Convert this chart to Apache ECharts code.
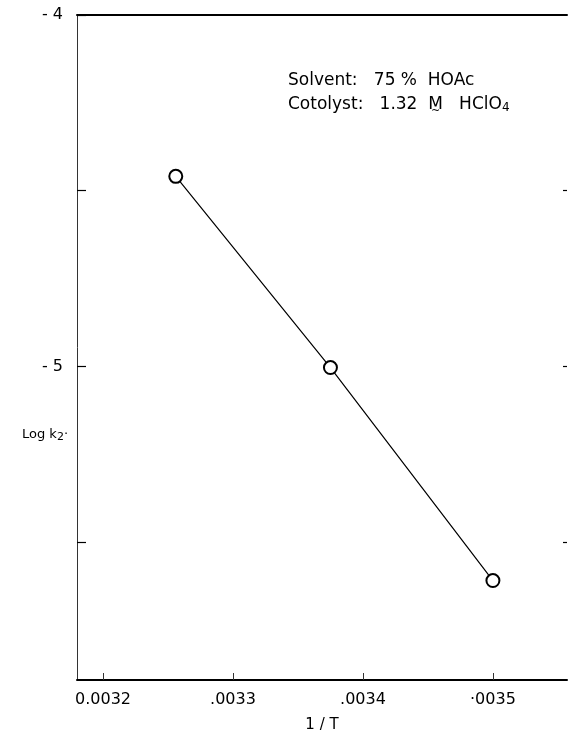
<!DOCTYPE html>
<html>
<head>
<meta charset="utf-8">
<script src="https://cdn.jsdelivr.net/npm/echarts@6/dist/echarts.min.js"></script>
<style>
  html, body { margin: 0; padding: 0; background: #fff; }
  #chart { width: 569px; height: 738px; }
</style>
</head>
<body>
<div id="chart"></div>
<script>
// Arrhenius-type plot: log k2 against reciprocal temperature
const invT = [0.003256, 0.003375, 0.003500];
const logK2 = [-4.459, -5.003, -5.609];

const xTickValues = [0.0032, 0.0033, 0.0034, 0.0035];
const xTickLabels = ['0.0032', '.0033', '.0034', '\u00b70035'];
const yTickValues = [-4, -4.5, -5, -5.5];
const yLabelValues = [-4, -5];
const yTickLabels = ['- 4', '- 5'];

const xMin = 0.00318, xMax = 0.003557;
const yMin = -5.892, yMax = -4;

const font = 'DejaVu Sans';
const ink = '#000';

const chart = echarts.init(document.getElementById('chart'));

chart.setOption({
  animation: false,
  backgroundColor: '#fff',
  grid: { left: 77, right: 2, top: 15, bottom: 55, containLabel: false },
  xAxis: [
    {
      type: 'value',
      min: xMin,
      max: xMax,
      position: 'bottom',
      axisLine: { show: true, onZero: false, lineStyle: { color: ink, width: 2 } },
      axisTick: { show: true, inside: true, length: 7, customValues: xTickValues,
                  lineStyle: { color: '#333', width: 1 } },
      axisLabel: {
        show: true, customValues: xTickValues, margin: 12,
        fontFamily: font, fontSize: 16, color: ink,
        formatter: v => {
          const i = xTickValues.findIndex(t => Math.abs(t - v) < 1e-9);
          return i >= 0 ? xTickLabels[i] : '';
        }
      },
      splitLine: { show: false },
      name: '1 / T',
      nameLocation: 'middle',
      nameGap: 38,
      nameTextStyle: { fontFamily: font, fontSize: 15, color: ink }
    },
    {
      type: 'value',
      min: xMin,
      max: xMax,
      position: 'top',
      axisLine: { show: true, onZero: false, lineStyle: { color: ink, width: 2 } },
      axisTick: { show: false },
      axisLabel: { show: false },
      splitLine: { show: false }
    }
  ],
  yAxis: [
    {
      type: 'value',
      min: yMin,
      max: yMax,
      position: 'left',
      axisLine: { show: true, onZero: false, lineStyle: { color: '#333', width: 1 } },
      axisTick: { show: true, inside: true, length: 9, customValues: yTickValues,
                  lineStyle: { color: ink, width: 1.2 } },
      axisLabel: {
        show: true, customValues: yLabelValues, margin: 14,
        fontFamily: font, fontSize: 16, color: ink,
        formatter: v => {
          const i = yLabelValues.findIndex(t => Math.abs(t - v) < 1e-9);
          return i >= 0 ? yTickLabels[i] : '';
        }
      },
      splitLine: { show: false }
    },
    {
      type: 'value',
      min: yMin,
      max: yMax,
      position: 'right',
      axisLine: { show: false },
      axisTick: { show: true, inside: true, length: 4, customValues: [-4.5, -5, -5.5],
                  lineStyle: { color: ink, width: 1.2 } },
      axisLabel: { show: false },
      splitLine: { show: false }
    }
  ],
  graphic: [
    {
      type: 'text', left: 22, top: 428,
      style: {
        text: '{m|Log k}{s|2}{m|\u00b7}',
        rich: {
          m: { fontFamily: font, fontSize: 13, fill: ink },
          s: { fontFamily: font, fontSize: 11, fill: ink, verticalAlign: 'bottom', padding: [6, 0, 0, 0] }
        }
      }
    },
    {
      type: 'text', left: 288, top: 72,
      style: { text: 'Solvent:   75 %  HOAc', fontFamily: font, fontSize: 17, fill: ink }
    },
    {
      type: 'text', left: 288, top: 96,
      style: {
        text: '{m|Cotolyst:   1.32  M   HClO}{s|4}',
        rich: {
          m: { fontFamily: font, fontSize: 17, fill: ink },
          s: { fontFamily: font, fontSize: 12, fill: ink, padding: [7, 0, 0, 0] }
        }
      }
    },
    {
      // tilde under the molarity unit
      type: 'text', left: 431, top: 106,
      style: { text: '~', fontFamily: font, fontSize: 11, fill: ink }
    }
  ],
  series: [
    {
      type: 'line',
      xAxisIndex: 0,
      yAxisIndex: 0,
      data: invT.map((x, i) => [x, logK2[i]]),
      symbol: 'emptyCircle',
      symbolSize: 13,
      showAllSymbol: true,
      lineStyle: { color: ink, width: 1.2 },
      itemStyle: { color: ink, borderColor: ink, borderWidth: 1.8 },
      z: 3
    }
  ]
});
</script>
</body>
</html>
